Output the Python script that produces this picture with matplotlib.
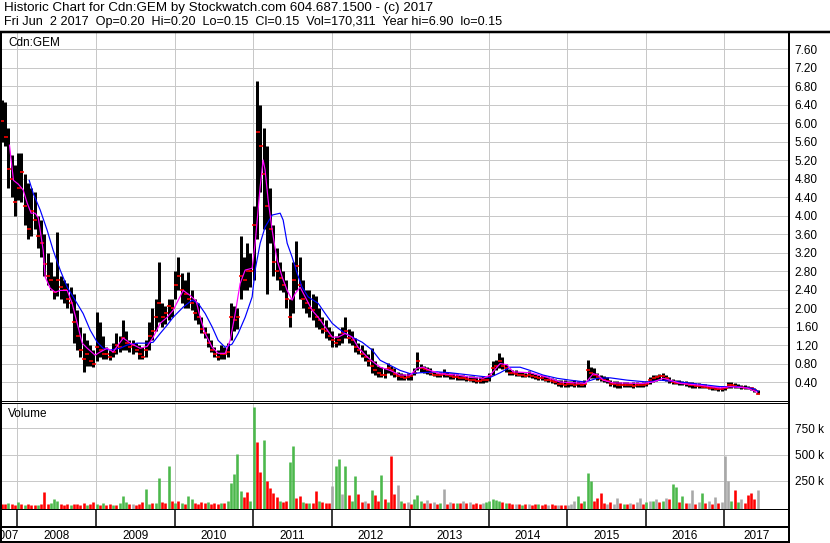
import numpy as np
import matplotlib.pyplot as plt
from matplotlib.lines import Line2D

plt.rcParams['font.family'] = ['Liberation Sans', 'DejaVu Sans']

# semi-monthly bars, Oct 2007 .. Jun 2017
first_bar = 2007.80
bar_step = 1 / 24

high = [6.50, 6.45, 5.90, 5.30, 5.10, 5.35, 5.35, 4.90, 4.70, 4.60,
        4.50, 4.00, 3.90, 3.60, 3.20, 3.00, 2.70, 3.65, 2.70, 2.60,
        2.55, 2.45, 2.30, 1.95, 1.60, 1.45, 1.30, 1.20, 1.10, 1.92,
        1.70, 1.40, 1.15, 1.10, 1.25, 1.45, 1.40, 1.73, 1.50, 1.30,
        1.30, 1.25, 1.20, 1.15, 1.30, 1.70, 2.00, 2.20, 3.00, 2.10,
        2.05, 2.20, 2.20, 2.80, 3.10, 2.75, 2.60, 2.78, 2.40, 2.20,
        2.10, 1.80, 1.60, 1.45, 1.30, 1.15, 1.10, 1.20, 1.15, 1.25,
        2.10, 2.05, 2.00, 3.55, 3.10, 3.40, 3.20, 4.20, 6.90, 6.40,
        5.90, 5.50, 4.60, 3.80, 3.30, 3.00, 2.80, 2.60, 2.20, 3.00,
        3.45, 3.10, 2.60, 2.40, 2.40, 2.30, 2.25, 2.00, 1.80, 1.75,
        1.60, 1.50, 1.40, 1.45, 1.60, 1.80, 1.55, 1.50, 1.35, 1.25,
        1.20, 1.10, 1.00, 1.13, 0.85, 0.75, 0.72, 0.70, 0.82, 0.75,
        0.70, 0.62, 0.60, 0.58, 0.60, 0.58, 0.70, 1.05, 0.80, 0.75,
        0.72, 0.70, 0.62, 0.60, 0.62, 0.68, 0.62, 0.60, 0.60, 0.58,
        0.55, 0.55, 0.54, 0.52, 0.52, 0.50, 0.50, 0.52, 0.50, 0.60,
        0.85, 0.88, 1.02, 0.95, 0.80, 0.68, 0.66, 0.65, 0.62, 0.62,
        0.60, 0.64, 0.60, 0.58, 0.55, 0.55, 0.52, 0.50, 0.48, 0.46,
        0.45, 0.44, 0.44, 0.42, 0.42, 0.44, 0.42, 0.40, 0.45, 0.87,
        0.72, 0.70, 0.60, 0.55, 0.52, 0.50, 0.44, 0.42, 0.42, 0.40,
        0.40, 0.40, 0.38, 0.40, 0.40, 0.38, 0.40, 0.42, 0.50, 0.55,
        0.55, 0.58, 0.59, 0.56, 0.50, 0.46, 0.44, 0.44, 0.42, 0.42,
        0.40, 0.40, 0.38, 0.38, 0.36, 0.35, 0.33, 0.32, 0.32, 0.30,
        0.30, 0.32, 0.40, 0.40, 0.38, 0.36, 0.34, 0.33, 0.32, 0.30,
        0.27, 0.22]

low = [5.60, 5.50, 4.60, 4.40, 4.00, 4.33, 4.30, 3.80, 3.50, 3.55,
       3.70, 3.30, 3.10, 2.70, 2.50, 2.40, 2.20, 2.25, 2.20, 2.10,
       2.00, 1.90, 1.25, 1.10, 0.95, 0.62, 0.75, 0.75, 0.72, 0.85,
       0.95, 0.90, 0.90, 0.88, 0.95, 1.00, 1.05, 1.10, 1.10, 1.05,
       1.00, 1.05, 0.90, 0.90, 0.95, 1.10, 1.30, 1.50, 1.70, 1.60,
       1.65, 1.75, 1.80, 2.20, 2.40, 2.10, 2.00, 2.00, 1.95, 1.75,
       1.65, 1.45, 1.35, 1.15, 1.05, 0.95, 0.87, 0.90, 0.90, 0.95,
       1.30, 1.50, 1.55, 2.20, 2.40, 2.40, 2.45, 2.60, 3.50, 4.50,
       3.70, 2.30, 3.40, 2.70, 2.60, 2.40, 2.35, 2.00, 1.60, 1.90,
       2.40, 2.20, 2.00, 1.90, 1.80, 1.75, 1.60, 1.55, 1.45, 1.35,
       1.30, 1.15, 1.15, 1.20, 1.25, 1.35, 1.25, 1.20, 1.05, 1.00,
       0.95, 0.85, 0.75, 0.60, 0.55, 0.50, 0.50, 0.48, 0.60, 0.55,
       0.50, 0.45, 0.44, 0.44, 0.45, 0.44, 0.55, 0.65, 0.62, 0.60,
       0.58, 0.55, 0.52, 0.50, 0.50, 0.50, 0.50, 0.46, 0.46, 0.45,
       0.44, 0.44, 0.42, 0.42, 0.40, 0.38, 0.37, 0.38, 0.40, 0.42,
       0.55, 0.65, 0.70, 0.68, 0.62, 0.55, 0.55, 0.52, 0.52, 0.50,
       0.50, 0.50, 0.48, 0.46, 0.45, 0.44, 0.42, 0.40, 0.38, 0.36,
       0.32, 0.30, 0.30, 0.30, 0.31, 0.30, 0.30, 0.30, 0.30, 0.45,
       0.48, 0.48, 0.44, 0.42, 0.40, 0.38, 0.32, 0.30, 0.28, 0.28,
       0.30, 0.30, 0.30, 0.28, 0.30, 0.30, 0.30, 0.32, 0.36, 0.40,
       0.42, 0.44, 0.45, 0.42, 0.38, 0.36, 0.35, 0.33, 0.34, 0.32,
       0.30, 0.28, 0.28, 0.27, 0.26, 0.26, 0.24, 0.22, 0.22, 0.20,
       0.20, 0.22, 0.26, 0.28, 0.28, 0.26, 0.25, 0.24, 0.24, 0.22,
       0.18, 0.13]

close = [6.05, 5.70, 5.00, 4.80, 4.30, 4.60, 4.95, 4.20, 3.70, 4.10,
         3.90, 3.55, 3.40, 2.95, 2.70, 2.60, 2.35, 2.60, 2.45, 2.40,
         2.20, 2.10, 1.70, 1.40, 1.10, 0.90, 1.00, 0.85, 0.80, 1.15,
         1.10, 1.00, 1.00, 0.95, 1.05, 1.20, 1.15, 1.35, 1.25, 1.15,
         1.20, 1.10, 1.00, 0.95, 1.10, 1.40, 1.50, 1.80, 2.10, 1.80,
         1.90, 2.05, 2.00, 2.50, 2.70, 2.40, 2.30, 2.20, 2.10, 1.90,
         1.80, 1.55, 1.45, 1.25, 1.10, 1.00, 0.95, 1.00, 1.00, 1.05,
         1.80, 1.75, 1.80, 2.70, 2.60, 2.80, 2.80, 3.80, 5.80, 5.50,
         4.90, 4.20, 3.70, 3.00, 2.80, 2.65, 2.50, 2.20, 1.80, 2.60,
         2.90, 2.50, 2.20, 2.10, 2.00, 1.95, 1.80, 1.75, 1.55, 1.50,
         1.40, 1.30, 1.25, 1.30, 1.45, 1.50, 1.35, 1.30, 1.15, 1.10,
         1.00, 0.95, 0.85, 0.75, 0.65, 0.60, 0.55, 0.55, 0.70, 0.65,
         0.58, 0.52, 0.50, 0.48, 0.50, 0.52, 0.60, 0.85, 0.70, 0.68,
         0.65, 0.60, 0.56, 0.55, 0.55, 0.58, 0.55, 0.52, 0.50, 0.50,
         0.48, 0.48, 0.46, 0.45, 0.44, 0.42, 0.42, 0.44, 0.44, 0.52,
         0.70, 0.75, 0.85, 0.75, 0.70, 0.60, 0.60, 0.58, 0.56, 0.55,
         0.54, 0.56, 0.52, 0.50, 0.48, 0.48, 0.45, 0.44, 0.42, 0.40,
         0.36, 0.35, 0.34, 0.35, 0.36, 0.34, 0.35, 0.34, 0.35, 0.65,
         0.60, 0.55, 0.50, 0.46, 0.44, 0.42, 0.36, 0.35, 0.33, 0.33,
         0.34, 0.33, 0.33, 0.32, 0.34, 0.33, 0.34, 0.36, 0.44, 0.48,
         0.50, 0.52, 0.52, 0.48, 0.42, 0.40, 0.38, 0.38, 0.37, 0.36,
         0.34, 0.33, 0.32, 0.31, 0.30, 0.29, 0.28, 0.26, 0.25, 0.24,
         0.24, 0.26, 0.34, 0.33, 0.32, 0.30, 0.29, 0.28, 0.27, 0.26,
         0.22, 0.15]

# volume in thousands of shares
volume = [30, 25, 35, 30, 20, 45, 25, 20, 25, 20,
          15, 20, 25, 140, 25, 40, 75, 60, 25, 20,
          25, 15, 25, 30, 20, 35, 20, 25, 45, 30,
          20, 35, 20, 25, 15, 20, 40, 100, 50, 25,
          30, 20, 25, 45, 170, 30, 40, 35, 275, 45,
          35, 390, 60, 35, 55, 40, 25, 100, 70, 40,
          30, 45, 35, 45, 30, 40, 25, 40, 35, 60,
          230, 315, 505, 150, 90, 140, 60, 960, 625, 330,
          635, 250, 180, 130, 90, 60, 45, 60, 430, 585,
          80, 100, 45, 40, 35, 40, 150, 60, 45, 35,
          40, 200, 390, 460, 120, 390, 110, 60, 295, 120,
          45, 60, 40, 160, 110, 60, 305, 70, 50, 487,
          120, 210, 60, 40, 50, 30, 70, 110, 55, 40,
          65, 35, 50, 30, 40, 170, 30, 45, 35, 40,
          35, 55, 35, 45, 30, 40, 30, 35, 45, 60,
          70, 65, 55, 45, 40, 35, 25, 30, 25, 20,
          30, 25, 20, 30, 25, 20, 25, 20, 25, 20,
          15, 20, 15, 20, 25, 55, 100, 40, 60, 325,
          250, 55, 80, 130, 40, 30, 45, 30, 80, 35,
          30, 25, 40, 30, 45, 80, 30, 50, 55, 60,
          70, 50, 60, 80, 70, 218, 190, 50, 100, 35,
          40, 160, 30, 50, 130, 40, 60, 30, 90, 35,
          50, 487, 250, 60, 160, 50, 70, 40, 110, 130,
          70, 160]

# price move of each bar: u = up, d = down, f = unchanged
direction = ("ddudd" "ududd" "duddd" "uuudd" "duddd"
             "duddu" "duddu" "duuud" "fdddu" "uduud"
             "dudud" "uduud" "dddud" "ddudu" "uuuud"
             "duudd" "udddd" "udduu" "ddudu" "ddudd"
             "dfuuf" "uduud" "dfdud" "dudud" "dfudf"
             "duuud" "fdfdu" "fdfdu" "dfdfd" "ddfuu"
             "uuudu" "ddfdu" "dfddu" "ddfdd" "fddff"
             "fuduu" "udddd" "fdffd" "udfdf" "fdufu"
             "fdufd" "uudud" "ffdfu" "dfdfd" "fffud"
             "ufddd" "df")

# moving averages (fractional years, price)
ma_fast_t = [2007.898, 2007.949, 2008.009, 2008.073, 2008.123, 2008.174, 2008.225,
             2008.264, 2008.289, 2008.327, 2008.353, 2008.416, 2008.480, 2008.544,
             2008.633, 2008.696, 2008.760, 2008.824, 2008.888, 2008.989, 2009.053,
             2009.142, 2009.218, 2009.346, 2009.435, 2009.562, 2009.651, 2009.728,
             2009.817, 2009.906, 2009.982, 2010.110, 2010.199, 2010.275, 2010.326,
             2010.390, 2010.479, 2010.555, 2010.644, 2010.708, 2010.772, 2010.835,
             2010.899, 2010.988, 2011.026, 2011.090, 2011.128, 2011.153, 2011.192,
             2011.243, 2011.306, 2011.370, 2011.434, 2011.497, 2011.535, 2011.599,
             2011.663, 2011.752, 2011.829, 2011.918, 2012.007, 2012.084, 2012.173,
             2012.262, 2012.338, 2012.453, 2012.555, 2012.618, 2012.746, 2012.873,
             2013.000, 2013.089, 2013.166, 2013.255, 2013.382, 2013.598, 2013.764,
             2013.930, 2014.019, 2014.146, 2014.235, 2014.311, 2014.528, 2014.744,
             2014.910, 2015.228, 2015.292, 2015.330, 2015.394, 2015.458, 2015.585,
             2015.967, 2016.094, 2016.222, 2016.311, 2016.438, 2016.693, 2016.947,
             2017.074, 2017.291, 2017.418]
ma_fast = [5.52, 4.76, 4.68, 4.55, 4.27, 4.05, 4.05,
           3.95, 3.68, 3.25, 2.67, 2.43, 2.34, 2.38,
           2.38, 2.10, 1.67, 1.24, 1.13, 0.98, 1.05,
           1.13, 1.05, 1.35, 1.24, 1.13, 1.17, 1.37,
           1.67, 1.80, 1.95, 2.38, 2.27, 2.15, 1.80,
           1.45, 1.15, 1.02, 1.02, 1.30, 1.88, 2.53,
           2.82, 2.86, 3.40, 4.62, 5.20, 4.98, 4.33,
           3.68, 3.03, 2.67, 2.38, 2.17, 2.31, 2.45,
           2.24, 1.95, 1.80, 1.59, 1.37, 1.37, 1.45,
           1.37, 1.15, 0.94, 0.80, 0.72, 0.65, 0.55,
           0.55, 0.70, 0.72, 0.65, 0.58, 0.55, 0.50,
           0.48, 0.55, 0.80, 0.77, 0.62, 0.60, 0.50,
           0.40, 0.37, 0.50, 0.58, 0.55, 0.44, 0.38,
           0.37, 0.40, 0.48, 0.44, 0.37, 0.33, 0.27,
           0.30, 0.27, 0.18]

ma_slow_t = [2008.149, 2008.200, 2008.289, 2008.378, 2008.454, 2008.544, 2008.633,
             2008.709, 2008.836, 2008.926, 2009.015, 2009.091, 2009.180, 2009.307,
             2009.397, 2009.524, 2009.651, 2009.728, 2009.817, 2009.906, 2009.982,
             2010.110, 2010.224, 2010.301, 2010.390, 2010.479, 2010.555, 2010.644,
             2010.733, 2010.810, 2010.899, 2010.988, 2011.026, 2011.090, 2011.153,
             2011.243, 2011.345, 2011.383, 2011.434, 2011.497, 2011.561, 2011.624,
             2011.701, 2011.829, 2011.918, 2012.007, 2012.084, 2012.173, 2012.262,
             2012.389, 2012.517, 2012.618, 2012.746, 2012.873, 2013.000, 2013.127,
             2013.343, 2013.509, 2013.764, 2014.019, 2014.146, 2014.273, 2014.400,
             2014.528, 2014.693, 2014.871, 2015.036, 2015.228, 2015.381, 2015.546,
             2015.763, 2016.017, 2016.183, 2016.438, 2016.693, 2016.947, 2017.163,
             2017.367, 2017.431]
ma_slow = [4.76, 4.48, 4.12, 3.68, 3.25, 2.82, 2.45,
           2.24, 1.88, 1.52, 1.26, 1.13, 1.09, 1.13,
           1.20, 1.24, 1.24, 1.26, 1.45, 1.63, 1.80,
           2.02, 2.17, 2.10, 1.88, 1.59, 1.30, 1.15,
           1.22, 1.45, 1.80, 2.24, 2.82, 3.40, 3.75,
           4.01, 4.05, 3.90, 3.40, 3.10, 2.75, 2.45,
           2.24, 2.10, 1.88, 1.67, 1.56, 1.45, 1.37,
           1.26, 1.09, 0.87, 0.76, 0.65, 0.58, 0.60,
           0.62, 0.60, 0.55, 0.50, 0.60, 0.72, 0.72,
           0.65, 0.55, 0.48, 0.44, 0.40, 0.48, 0.49,
           0.44, 0.40, 0.44, 0.40, 0.35, 0.30, 0.30,
           0.26, 0.20]

years = [2007, 2008, 2009, 2010, 2011, 2012, 2013, 2014, 2015, 2016, 2017]
price_ticks = [0.40, 0.80, 1.20, 1.60, 2.00, 2.40, 2.80, 3.20, 3.60, 4.00,
               4.40, 4.80, 5.20, 5.60, 6.00, 6.40, 6.80, 7.20, 7.60]
vol_ticks = [250, 500, 750]
vol_labels = ['250 k', '500 k', '750 k']

title1 = 'Historic Chart for Cdn:GEM by Stockwatch.com 604.687.1500 - (c) 2017'
title2 = ('Fri Jun  2 2017  Op=0.20  Hi=0.20  Lo=0.15  Cl=0.15  '
          'Vol=170,311  Year hi=6.90  lo=0.15')

W, H = 830, 543
PX = 0.72  # one pixel in points
FS = 8.5
x_left, x_right = 2007.79, 2017.824
px_year = 78.55
grid_c = '#c8c8c8'
dir_colors = {'u': '#4cb84c', 'd': '#ff0000', 'f': '#a8a8a8'}

t = first_bar + bar_step * np.arange(len(close))

fig = plt.figure(figsize=(W / 100, H / 100), dpi=100)


def rect(x0, y0, x1, y1):
    return [x0 / W, 1 - y1 / H, (x1 - x0) / W, (y1 - y0) / H]


# price panel
ax = fig.add_axes(rect(1, 32.5, 789, 400.5))
ax.vlines(t, low, high, color='black', lw=3.0 * PX, zorder=2)
ax.plot(t + 0.6 / px_year, close, ls='none', marker='_', ms=2.4, mew=1.6 * PX,
        color='red', zorder=3)
ax.plot(ma_slow_t, ma_slow, color='#0000ff', lw=1.2 * PX, zorder=4)
ax.plot(ma_fast_t, ma_fast, color='#ff00ff', lw=1.2 * PX, zorder=5)
ax.set_xlim(x_left, x_right)
ax.set_ylim(0, 7.957)
ax.set_xticks(years[1:])
ax.set_yticks(price_ticks)
ax.set_yticklabels([f'{v:.2f}' for v in price_ticks])
ax.yaxis.tick_right()
ax.tick_params(length=0, labelbottom=False, labelsize=FS, pad=4)
ax.grid(color=grid_c, lw=PX)
ax.set_axisbelow(True)
ax.spines['top'].set_visible(False)
ax.spines['bottom'].set_linewidth(PX)
for s in ('left', 'right'):
    ax.spines[s].set_linewidth(2 * PX)

# volume panel
av = fig.add_axes(rect(1, 402.5, 789, 509.5))
av.set_xlim(x_left, x_right)
av.set_ylim(-26, 999)
av.vlines(t, -26, volume, colors=[dir_colors[c] for c in direction],
          lw=2.6 * PX, zorder=2)
av.set_xticks(years[1:])
av.set_yticks(vol_ticks)
av.set_yticklabels(vol_labels)
av.yaxis.tick_right()
av.tick_params(length=0, labelbottom=False, labelsize=FS, pad=4)
av.grid(color=grid_c, lw=PX)
av.set_axisbelow(True)
av.spines['top'].set_linewidth(PX)
for s in ('left', 'right', 'bottom'):
    av.spines[s].set_linewidth(2 * PX)

# date strip
ad = fig.add_axes(rect(1, 509.5, 789, 541.5))
ad.set_xlim(x_left, x_right)
ad.set_ylim(0, 1)
ad.set_xticks([])
ad.set_yticks([])
ad.spines['top'].set_visible(False)
for s in ('left', 'right', 'bottom'):
    ad.spines[s].set_linewidth(2 * PX)
ad.axhline(0.453, color='black', lw=2 * PX)
ad.vlines(years[1:], 0.453, 1, color='black', lw=1.5 * PX)
for y in years:
    a, b = max(y, x_left), min(y + 1, x_right)
    if y == years[0]:
        ad.text(b + 1.5 / px_year, 0.08, str(y), ha='right', va='baseline',
                fontsize=FS)
    else:
        ad.text((a + b) / 2, 0.08, str(y), ha='center', va='baseline',
                fontsize=FS)

# header
fig.add_artist(Line2D([0, 1], [1 - 31.5 / H] * 2, transform=fig.transFigure,
                      color='black', lw=2.5 * PX))
fig.text(4 / W, 1 - 11 / H, title1, va='baseline', fontsize=9.6)
fig.text(4 / W, 1 - 25 / H, title2, va='baseline', fontsize=9.05)
fig.text(8 / W, 1 - 46 / H, 'Cdn:GEM', va='baseline', fontsize=FS)
fig.text(8 / W, 1 - 417 / H, 'Volume', va='baseline', fontsize=FS)

fig.savefig('out.png', dpi=100)
